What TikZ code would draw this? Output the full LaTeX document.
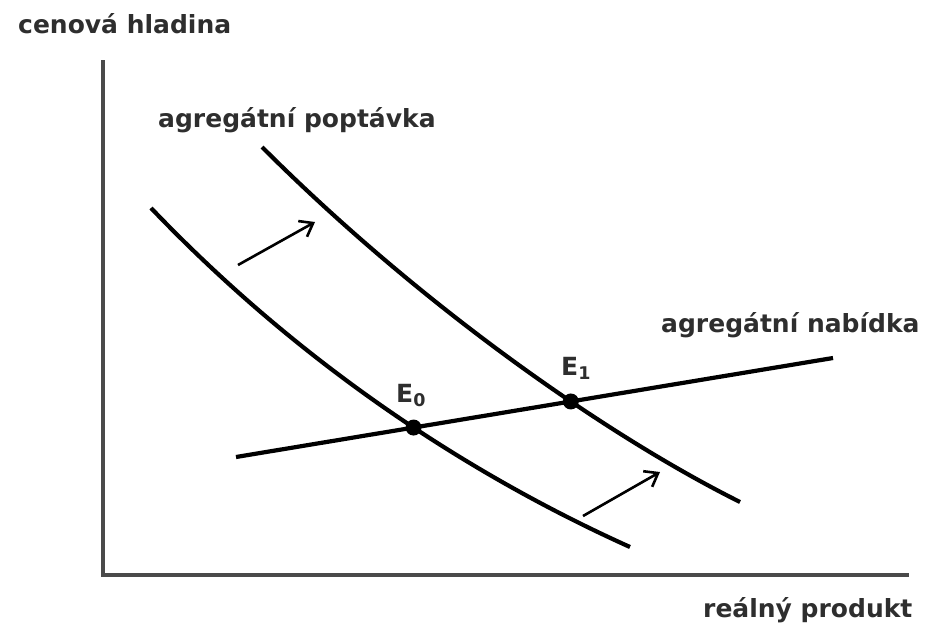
\documentclass[tikz,border=0pt]{standalone}
\usepackage{fontspec}
\setmainfont{DejaVu Sans}
\usetikzlibrary{arrows.meta, intersections}
\definecolor{axisgray}{HTML}{4A4A4A}
\definecolor{labgray}{HTML}{2E2E2E}

\begin{document}
\begin{tikzpicture}[x=1pt, y=-1pt,
  axis/.style={draw=axisgray, line width=3.8pt},
  curve/.style={draw=black, line width=4.2pt},
  move/.style={draw=black, line width=2.6pt,
               -{Straight Barb[length=12pt, width=18pt, line width=2.6pt]}},
  eq/.style={circle, fill=black, inner sep=0pt, minimum size=16pt},
  lab/.style={font=\bfseries\fontsize{25}{30}\selectfont, text=labgray,
              inner sep=0pt, anchor=base west},
]
\useasboundingbox (0,0) rectangle (937,624);
% axes
\coordinate (ytop) at (103,60);
\coordinate (origin) at (103,575);
\coordinate (xend) at (909,575);
\draw[axis] (ytop) -- (origin) -- (xend);
\node[lab] (ylab) at (18,33) {cenová hladina};
\node[lab] (xlab) at (703,617) {reálný produkt};
% demand curves (before / after the shift)
\coordinate (d0s) at (151,208);
\coordinate (d0e) at (630,547);
\coordinate (d1s) at (262,147);
\coordinate (d1e) at (740,502);
\draw[curve, name path=ad0] (d0s) .. controls (301,365) and (470,475) .. (d0e);
\draw[curve, name path=ad1] (d1s) .. controls (415,300) and (600,432) .. (d1e);
\node[lab] (adlab) at (158,127) {agregátní poptávka};
% supply line
\coordinate (ss) at (236,457);
\coordinate (se) at (833,358);
\draw[curve, name path=as] (ss) -- (se);
\node[lab] (aslab) at (661,332) {agregátní nabídka};
% shift arrows
\coordinate (m0s) at (238,265);
\coordinate (m0e) at (315,222);
\coordinate (m1s) at (583,516);
\coordinate (m1e) at (660,472);
\draw[move] (m0s) -- (m0e);
\draw[move] (m1s) -- (m1e);
% equilibria
\path[name intersections={of=ad0 and as, by=e0}];
\path[name intersections={of=ad1 and as, by=e1}];
\node[eq] (E0) at (e0) {};
\node[eq] (E1) at (e1) {};
\node[lab] (E0lab) at (396,402) {E\textsubscript{0}};
\node[lab] (E1lab) at (561,375) {E\textsubscript{1}};
\end{tikzpicture}
\end{document}
